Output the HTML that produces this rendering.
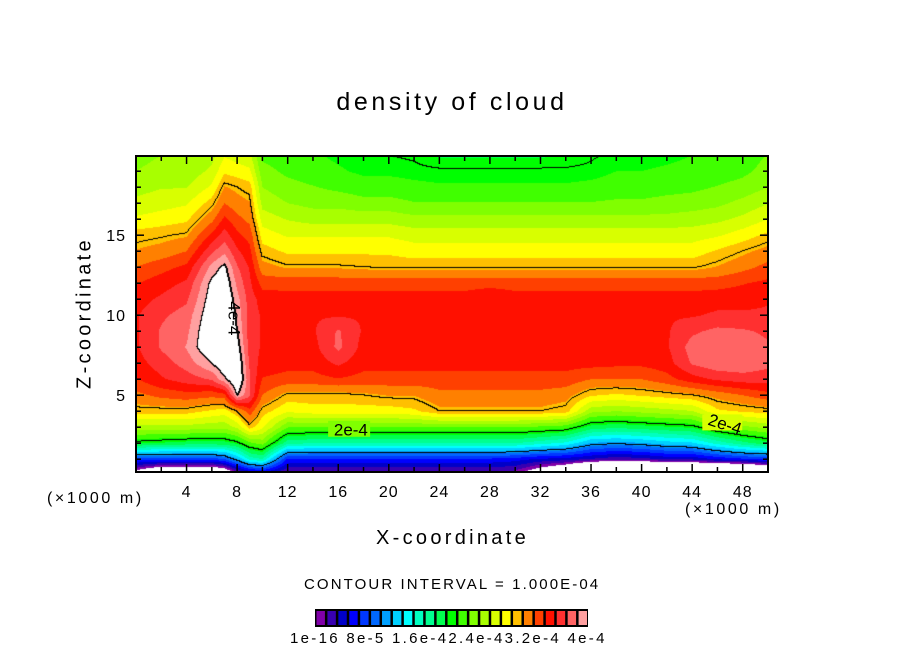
<!DOCTYPE html>
<html><head><meta charset="utf-8"><style>
html,body{margin:0;padding:0;background:#fff;}
body{width:904px;height:654px;position:relative;overflow:hidden;font-family:"Liberation Sans",sans-serif;}
.t{position:absolute;white-space:nowrap;color:#000;}
</style></head><body>
<div class="t" style="left:0;width:904px;text-align:center;top:88px;font-size:25px;letter-spacing:3.6px">density of cloud</div>
<canvas id="cv" width="632" height="316" style="position:absolute;left:136px;top:156px"></canvas>
<svg id="ax" width="904" height="654" style="position:absolute;left:0;top:0"></svg>
<div class="t" style="left:85px;top:313px;font-size:20px;transform:translate(-50%,-50%) rotate(-90deg);letter-spacing:3.3px">Z-coordinate</div>
<div class="t" style="left:376px;top:527px;font-size:20px;letter-spacing:3.3px">X-coordinate</div>
<div class="t" style="left:47px;top:490px;font-size:16px;letter-spacing:2.6px">(×1000 m)</div>
<div class="t" style="left:685px;top:501px;font-size:16px;letter-spacing:2.6px">(×1000 m)</div>
<div class="t" style="left:304px;top:576px;font-size:15px;letter-spacing:2.1px">CONTOUR INTERVAL = 1.000E-04</div>
<div class="t" style="left:290px;top:630px;font-size:15px;letter-spacing:2.3px">1e-16 8e-5 1.6e-42.4e-43.2e-4 4e-4</div>
<script>
const xs=[0,2,4,6,7,8,9,10,12,14,16,18,20,22,24,26,28,30,32,34,36,38,40,42,44,46,48,50];
const zs=[0,1,2,3,4,5,6,7,8,9,10,11,12,13,14,15,16,17,18,19,20];
const colors=["#8000a8","#3800b0","#0000c8","#0000ff","#0038ff","#0068ff","#00a0ff","#00d0ff","#00ffff","#00ffc0","#00ff90","#00ff50","#00ff00","#40ff00","#80ff00","#a8ff00","#d8ff00","#ffff00","#ffc000","#ff8000","#ff4000","#ff1000","#ff3030","#ff6464","#ffa0a0"];
const levels=[1,2,3,4];
const xTicks=[4,8,12,16,20,24,28,32,36,40,44,48];
const yTicks=[5,10,15];
// field values (units of 1e-4), one profile per x column, z=0..20
const c0=[-0.3,0.7,1.95,2.5,2.95,3.15,3.35,3.45,3.5,3.5,3.5,3.45,3.35,3.2,3.05,2.95,2.75,2.6,2.5,2.4,2.35];
const c2=[-0.8,0.7,1.9,2.5,2.95,3.25,3.5,3.6,3.7,3.7,3.65,3.55,3.45,3.3,3.1,2.98,2.8,2.65,2.55,2.45,2.4];
const c4=[-0.8,0.7,1.85,2.5,2.95,3.3,3.6,3.75,3.85,3.8,3.75,3.65,3.55,3.4,3.2,3.02,2.85,2.7,2.55,2.45,2.4];
const c6=[-0.8,0.7,1.85,2.45,2.85,3.25,3.7,4.0,4.2,4.2,4.15,4.1,4.05,3.9,3.65,3.4,3.15,2.95,2.75,2.6,2.5];
const c7=[-0.6,0.8,1.85,2.45,2.8,3.3,3.95,4.2,4.3,4.3,4.3,4.2,4.15,4.05,3.8,3.6,3.4,3.2,3.05,2.85,2.7];
const c8=[-0.1,1.1,1.95,2.6,3.0,4.0,4.25,4.2,4.1,4.0,3.95,3.9,3.8,3.7,3.55,3.4,3.25,3.1,3.0,2.8,2.65];
const c9=[0.1,1.5,2.2,2.95,3.3,3.7,3.7,3.65,3.6,3.6,3.6,3.6,3.55,3.5,3.4,3.3,3.15,3.05,2.95,2.75,2.6];
const c10=[0.2,1.6,2.3,2.75,2.95,3.2,3.35,3.45,3.5,3.5,3.5,3.45,3.3,3.1,2.95,2.8,2.65,2.5,2.4,2.3,2.2];
const c12=[0.05,0.6,1.65,2.25,2.75,2.97,3.3,3.42,3.46,3.5,3.5,3.42,3.3,3.02,2.85,2.7,2.55,2.4,2.3,2.2,2.15];
const c14=[0.05,0.6,1.6,2.25,2.8,2.98,3.3,3.42,3.46,3.5,3.5,3.42,3.3,3.02,2.85,2.7,2.5,2.35,2.25,2.15,2.1];
const c16=[0.05,0.6,1.6,2.25,2.8,2.97,3.35,3.55,3.72,3.7,3.5,3.42,3.3,3.02,2.85,2.7,2.5,2.35,2.2,2.1,2.05];
const c18=[0.05,0.6,1.6,2.25,2.8,3.0,3.3,3.42,3.46,3.5,3.5,3.42,3.3,3.0,2.85,2.7,2.5,2.3,2.15,2.05,2.0];
const c20=[0.05,0.6,1.6,2.25,2.8,3.05,3.3,3.42,3.46,3.5,3.5,3.42,3.3,2.98,2.85,2.7,2.5,2.3,2.15,2.05,2.0];
const c22=[0.05,0.6,1.6,2.25,2.85,3.05,3.3,3.42,3.46,3.5,3.5,3.42,3.3,2.98,2.8,2.65,2.45,2.25,2.12,2.03,1.98];
const c24=[0.05,0.6,1.6,2.25,3.0,3.15,3.3,3.42,3.46,3.5,3.5,3.42,3.3,2.98,2.8,2.65,2.45,2.25,2.1,2.02,1.9];
const c26=[0.05,0.6,1.6,2.25,3.0,3.15,3.3,3.42,3.46,3.5,3.5,3.42,3.3,2.98,2.8,2.65,2.45,2.25,2.1,2.02,1.9];
const c28=[0.05,0.6,1.6,2.25,3.0,3.15,3.3,3.42,3.46,3.5,3.5,3.5,3.3,2.98,2.8,2.65,2.45,2.25,2.1,2.02,1.9];
const c30=[0.0,0.55,1.6,2.25,3.0,3.15,3.3,3.42,3.46,3.5,3.5,3.42,3.3,2.98,2.8,2.65,2.45,2.25,2.1,2.02,1.9];
const c32=[-0.4,0.45,1.5,2.2,3.0,3.15,3.3,3.42,3.46,3.5,3.5,3.42,3.3,2.98,2.8,2.65,2.45,2.25,2.1,2.02,1.9];
const c34=[-0.8,0.4,1.4,2.15,2.95,3.1,3.3,3.42,3.46,3.5,3.5,3.42,3.3,2.98,2.8,2.65,2.45,2.25,2.1,2.02,1.92];
const c36=[-1.5,0.3,1.1,1.85,2.45,2.9,3.2,3.42,3.46,3.5,3.5,3.42,3.3,2.98,2.8,2.65,2.45,2.25,2.12,2.03,1.98];
const c38=[-1.8,0.2,1.05,1.8,2.4,2.85,3.2,3.4,3.46,3.5,3.5,3.42,3.3,2.98,2.8,2.65,2.45,2.27,2.15,2.08,2.03];
const c40=[-1.8,0.25,1.1,1.85,2.45,2.9,3.2,3.4,3.46,3.5,3.5,3.42,3.3,2.98,2.8,2.65,2.45,2.27,2.15,2.08,2.03];
const c42=[-1.5,0.35,1.2,1.9,2.5,2.95,3.3,3.45,3.5,3.5,3.5,3.42,3.3,2.98,2.8,2.65,2.45,2.3,2.18,2.1,2.05];
const c44=[-1.5,0.35,1.25,1.95,2.55,3.0,3.45,3.7,3.75,3.65,3.5,3.42,3.3,2.98,2.8,2.65,2.48,2.32,2.2,2.12,2.08];
const c46=[-1.5,0.5,1.5,2.2,2.85,3.1,3.55,3.8,3.82,3.72,3.55,3.45,3.3,3.05,2.9,2.7,2.52,2.36,2.25,2.15,2.1];
const c48=[-1.5,0.6,1.7,2.35,2.9,3.2,3.6,3.8,3.8,3.7,3.55,3.45,3.35,3.15,3.0,2.8,2.6,2.45,2.3,2.2,2.15];
const c50=[-1.0,0.65,1.85,2.45,2.95,3.3,3.6,3.72,3.7,3.65,3.55,3.5,3.4,3.25,3.1,2.92,2.72,2.55,2.4,2.3,2.25];
const field=[c0,c2,c4,c6,c7,c8,c9,c10,c12,c14,c16,c18,c20,c22,c24,c26,c28,c30,c32,c34,c36,c38,c40,c42,c44,c46,c48,c50];

const PX=136,PY=156,PW=632,PH=316,XMIN=0,XMAX=50,ZMIN=0.2,ZMAX=19.95;
function sx(x){return PX+(x-XMIN)/(XMAX-XMIN)*PW;}
function sy(z){return PY+PH-(z-ZMIN)/(ZMAX-ZMIN)*PH;}
function seg(arr,v){let i=0;while(i<arr.length-2&&v>arr[i+1])i++;return i;}
function val(x,z){
  const i=seg(xs,x),j=seg(zs,z);
  const tx=Math.max(0,Math.min(1,(x-xs[i])/(xs[i+1]-xs[i])));
  const tz=Math.max(0,Math.min(1,(z-zs[j])/(zs[j+1]-zs[j])));
  const a=field[i][j],b=field[i+1][j],c=field[i][j+1],d=field[i+1][j+1];
  return (a*(1-tx)+b*tx)*(1-tz)+(c*(1-tx)+d*tx)*tz;
}
function hex(h){return [parseInt(h.slice(1,3),16),parseInt(h.slice(3,5),16),parseInt(h.slice(5,7),16)];}
const rgb=colors.map(hex);
const cv=document.getElementById('cv'),ctx=cv.getContext('2d');
const img=ctx.createImageData(PW,PH);
const V=new Float32Array(PW*PH);
for(let py=0;py<PH;py++)for(let px=0;px<PW;px++){
  const x=XMIN+(px+0.5)/PW*(XMAX-XMIN),z=ZMAX-(py+0.5)/PH*(ZMAX-ZMIN);
  V[py*PW+px]=val(x,z);
}
function lv(v){let n=0;for(const l of levels)if(v>=l)n++;return n;}
for(let py=0;py<PH;py++)for(let px=0;px<PW;px++){
  const k=py*PW+px,v=V[k];let c;
  if(v<=0||v>=4)c=[255,255,255];else c=rgb[Math.min(24,Math.floor(v/0.16))];
  const L=lv(v);
  if(px<PW-1&&lv(V[k+1])!==L)c=[0,0,0];
  if(py<PH-1&&lv(V[k+PW])!==L)c=[0,0,0];
  if(px>0&&py>0&&(V[k]>=4)!==(V[k-1]>=4||V[k-PW]>=4)&&Math.abs(V[k]-4)<0.08)c=[0,0,0];
  img.data[k*4]=c[0];img.data[k*4+1]=c[1];img.data[k*4+2]=c[2];img.data[k*4+3]=255;
}
ctx.putImageData(img,0,0);

const NS='http://www.w3.org/2000/svg',svg=document.getElementById('ax');
function mk(t,a){const e=document.createElementNS(NS,t);for(const k in a)e.setAttribute(k,a[k]);svg.appendChild(e);return e;}
function clabel(x,z,txt,rot){
  const t=mk('text',{x:sx(x),y:sy(z)+6,'font-size':17,'font-family':'Liberation Sans, sans-serif','text-anchor':'middle',transform:rot?`rotate(${rot} ${sx(x)} ${sy(z)})`:''});
  t.textContent=txt;
  
  
}
mk('rect',{x:sx(15.2),y:sy(2.9)-8,width:42,height:16,fill:'#80ff00'});
clabel(17.0,2.85,'2e-4',0);
mk('rect',{x:sx(44.8),y:sy(3.3)-8,width:40,height:16,fill:'#d8ff00'});
clabel(46.6,3.2,'2e-4',18);
clabel(7.8,9.8,'4e-4',90);
const fr=mk('rect',{x:PX,y:PY,width:PW,height:PH,fill:'none',stroke:'#000','stroke-width':2});


for(let x=2;x<50;x+=2){
  const L=(x%4===0)?8:5;
  mk('line',{x1:sx(x),x2:sx(x),y1:PY+PH,y2:PY+PH-L,stroke:'#000','stroke-width':1.5});
  mk('line',{x1:sx(x),x2:sx(x),y1:PY,y2:PY+L,stroke:'#000','stroke-width':1.5});
}
for(let z=1;z<20;z++){
  const L=(z%5===0)?8:5;
  mk('line',{x1:PX,x2:PX+L,y1:sy(z),y2:sy(z),stroke:'#000','stroke-width':1.5});
  mk('line',{x1:PX+PW,x2:PX+PW-L,y1:sy(z),y2:sy(z),stroke:'#000','stroke-width':1.5});
}
xTicks.forEach(x=>{
  const t=mk('text',{x:sx(x),y:497,'font-size':16,'text-anchor':'middle','font-family':'Liberation Sans, sans-serif','letter-spacing':1});
  t.textContent=x;
  
  
});
yTicks.forEach(z=>{
  const t=mk('text',{x:PX-10,y:sy(z)+6,'font-size':16,'text-anchor':'end','font-family':'Liberation Sans, sans-serif','letter-spacing':1});
  t.textContent=z;
  
  
});
const CX=315,CW=273,CY=609,CH=18,bw=CW/colors.length;
mk('rect',{x:CX,y:CY,width:CW,height:CH,fill:'#000'});
colors.forEach((c,i)=>{
  const r=mk('rect',{x:CX+i*bw+1.5,y:CY+2,width:bw-2.5,height:CH-4,fill:c});
  
  
});
</script>
</body></html>
